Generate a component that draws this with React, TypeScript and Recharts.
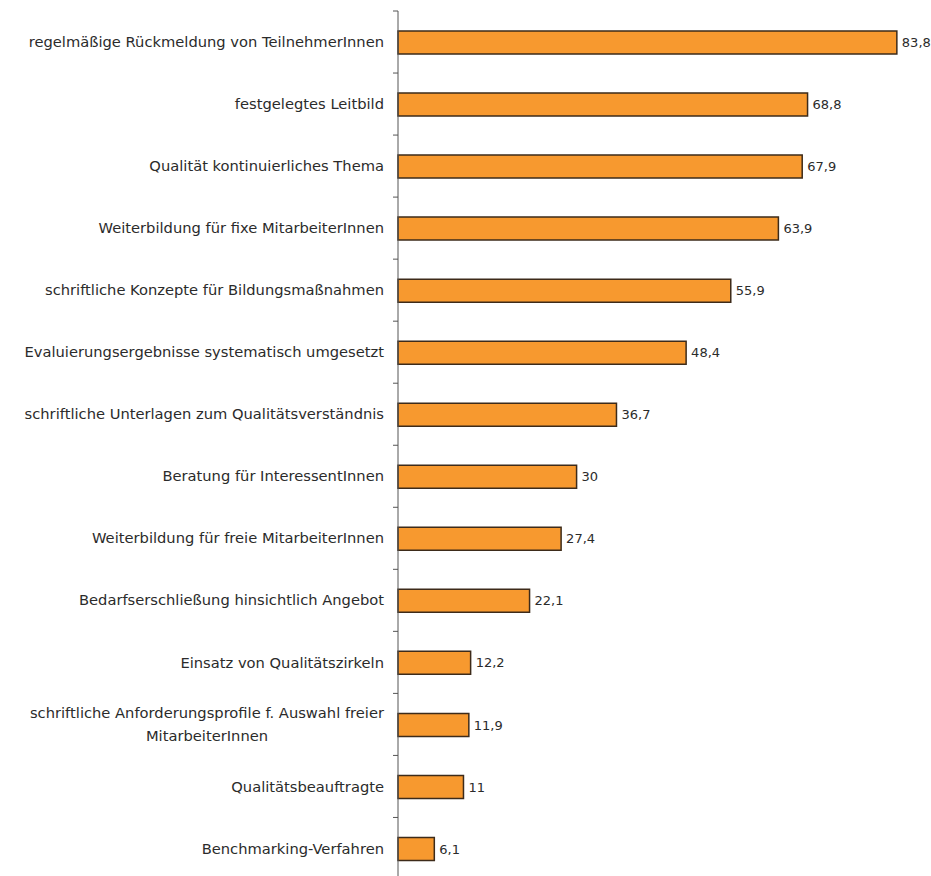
import { BarChart, Bar, XAxis, YAxis, LabelList } from "recharts";

const categories = [
    "regelmäßige Rückmeldung von TeilnehmerInnen",
    "festgelegtes Leitbild",
    "Qualität kontinuierliches Thema",
    "Weiterbildung für fixe MitarbeiterInnen",
    "schriftliche Konzepte für Bildungsmaßnahmen",
    "Evaluierungsergebnisse systematisch umgesetzt",
    "schriftliche Unterlagen zum Qualitätsverständnis",
    "Beratung für InteressentInnen",
    "Weiterbildung für freie MitarbeiterInnen",
    "Bedarfserschließung hinsichtlich Angebot",
    "Einsatz von Qualitätszirkeln",
    "schriftliche Anforderungsprofile f. Auswahl freier MitarbeiterInnen",
    "Qualitätsbeauftragte",
    "Benchmarking-Verfahren",
];

const values = [83.8, 68.8, 67.9, 63.9, 55.9, 48.4, 36.7, 30, 27.4, 22.1, 12.2, 11.9, 11, 6.1];

const data = categories.map((name, i) => ({ name, value: values[i] }));

const WIDTH = 931;
const HEIGHT = 884;
const MARGIN = { top: 11, right: 27, bottom: 4.5, left: 0 };
const BAND = (HEIGHT - MARGIN.top - MARGIN.bottom) / categories.length;
const FONT = "14.7px 'DejaVu Sans'";
const TEXT = "#2b2b2b";

let ctx: CanvasRenderingContext2D | null = null;
const measure = (s: string) => {
    if (!ctx) ctx = document.createElement("canvas").getContext("2d");
    if (!ctx) return s.length * 8;
    ctx.font = FONT;
    return ctx.measureText(s).width;
};

const splitLabel = (s: string, max = 51) => {
    if (s.length <= max) return [s];
    const cut = s.lastIndexOf(" ", max);
    return [s.slice(0, cut), s.slice(cut + 1)];
};

const CategoryTick = (props: any) => {
    const { x, y, payload } = props;
    const lines = splitLabel(payload.value);
    const axisX = x + 14;
    const tickY = y - BAND / 2;
    return (
        <g>
            <line x1={axisX - 5} x2={axisX} y1={tickY} y2={tickY} stroke="#555" strokeWidth={1} />
            {lines.length === 1 ? (
                <text x={x} y={y} dy="0.35em" textAnchor="end" fill={TEXT}
                    style={{ font: FONT }}>
                    {lines[0]}
                </text>
            ) : (
                <g>
                    <text x={x} y={y - 11.5} dy="0.35em" textAnchor="end" fill={TEXT}
                        style={{ font: FONT }}>
                        {lines[0]}
                    </text>
                    <text x={x - measure(lines[0]) / 2} y={y + 11.5} dy="0.35em" textAnchor="middle" fill={TEXT}
                        style={{ font: FONT }}>
                        {lines[1]}
                    </text>
                </g>
            )}
        </g>
    );
};

const App = () => {

    return (

        <div style={{ position: "absolute", left: 0, top: 0, background: "#fff" }}>

            <BarChart
                width={WIDTH}
                height={HEIGHT}
                data={data}
                layout="vertical"
                margin={MARGIN}
                barCategoryGap={0}
            >

                <XAxis type="number" domain={[0, 85]} hide />

                <YAxis
                    type="category"
                    dataKey="name"
                    width={398}
                    axisLine={{ stroke: "#555", strokeWidth: 1 }}
                    tickLine={false}
                    tickSize={0}
                    tickMargin={14}
                    interval={0}
                    tick={<CategoryTick />}
                />

                <Bar
                    dataKey="value"
                    fill="#F7992F"
                    stroke="#3d2b1a"
                    strokeWidth={1.5}
                    barSize={23}
                    isAnimationActive={false}
                >

                    <LabelList
                        dataKey="value"
                        position="right"
                        offset={5}
                        formatter={(v: any) => String(v).replace(".", ",")}
                        style={{ font: "13px 'DejaVu Sans'", fill: TEXT }}
                    />

                </Bar>

            </BarChart>

        </div>

    );

};

export default App;
